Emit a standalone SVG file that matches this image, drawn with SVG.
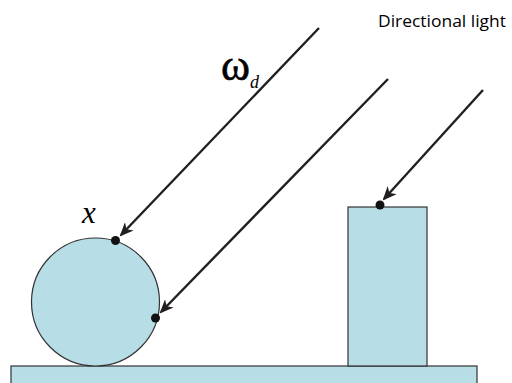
<svg xmlns="http://www.w3.org/2000/svg" width="512" height="383" viewBox="0 0 512 383">
<style>
.obj{fill:#b7dde6;stroke:#333;stroke-width:1.2}
.ray{stroke:#231f20;stroke-width:2.4;fill:none;marker-end:url(#ah)}
.dot{fill:#111}
</style>
<defs>
<marker id="ah" markerWidth="14" markerHeight="12" viewBox="0 0 14 12" refX="12" refY="6" orient="auto" markerUnits="userSpaceOnUse">
<path d="M0,0 L14,6 L0,12 L4,6 Z" fill="#231f20"/>
</marker>
</defs>
<rect width="512" height="383" fill="#fff"/>
<g id="ground"><rect class="obj" x="11" y="366" width="466" height="20"/></g>
<g id="sphere"><circle class="obj" cx="95.5" cy="302" r="64"/></g>
<g id="box"><rect class="obj" x="348" y="207" width="79" height="159"/></g>
<g id="connectors">
<line class="ray" x1="319" y1="28" x2="121" y2="235"/>
<line class="ray" x1="388" y1="79" x2="161" y2="312"/>
<line class="ray" x1="483" y1="90" x2="384" y2="199"/>
</g>
<g id="points">
<circle class="dot" cx="115.5" cy="240.5" r="4.5"/>
<circle class="dot" cx="155.5" cy="318" r="4.5"/>
<circle class="dot" cx="380" cy="205" r="4.5"/>
</g>
<g id="labels">
<text x="221" y="80" font-family="Liberation Serif, serif" font-size="44" stroke="#000" stroke-width="0.6">ω</text>
<text x="250" y="88" font-family="Liberation Serif, serif" font-style="italic" font-size="18">d</text>
<text x="82" y="223" font-family="Liberation Serif, serif" font-style="italic" font-size="31">x</text>
<text x="378" y="27" font-family="Open Sans, sans-serif" font-size="15.5" textLength="128" lengthAdjust="spacingAndGlyphs">Directional light</text>
</g>
</svg>
